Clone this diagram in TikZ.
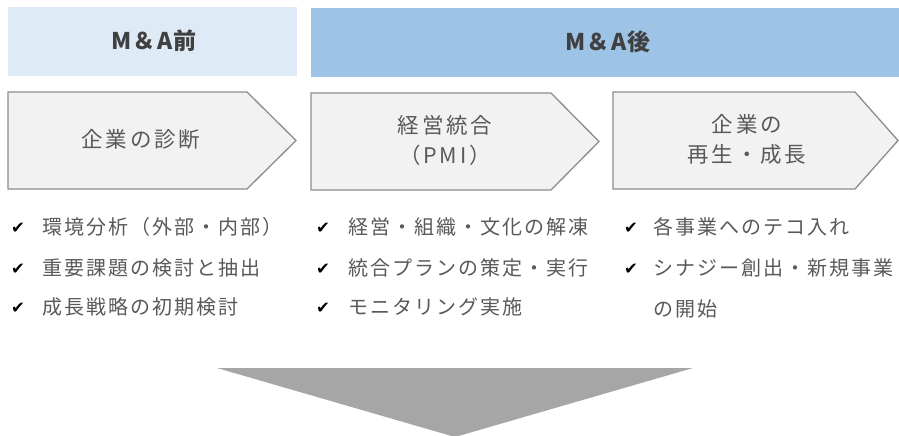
\documentclass[tikz,border=0pt]{standalone}
\usepackage{fontspec}
\setmainfont{Noto Sans CJK JP}
\newfontfamily\chk{DejaVu Sans}
\newfontfamily\jpsp[LetterSpace=10]{Noto Sans CJK JP}
\newfontfamily\jpspb[LetterSpace=13]{Noto Sans CJK JP}
\newfontfamily\jphdr[LetterSpace=5]{Noto Sans CJK JP}
\definecolor{hdrA}{HTML}{DEEAF6}
\definecolor{hdrB}{HTML}{9DC3E6}
\definecolor{chevfill}{HTML}{F2F2F2}
\definecolor{chevline}{HTML}{8C8C8C}
\definecolor{txtgray}{HTML}{595959}
\definecolor{hdrtxt}{HTML}{404040}
\definecolor{arrowgray}{HTML}{A6A6A6}
\tikzset{
  hdrlabel/.style={font=\jphdr\fontsize{23}{26}\selectfont\bfseries, text=hdrtxt, inner sep=0pt},
  chevshape/.style={fill=chevfill, draw=chevline, line width=1.3pt},
  chevlabel/.style={font=\jpspb\fontsize{21.5}{30}\selectfont, text=txtgray, align=center, inner sep=0pt},
  bullettext/.style={font=\jpsp\fontsize{20}{22}\selectfont, text=txtgray, anchor=west, inner sep=0pt},
  checkmark/.style={font=\chk\fontsize{16.5}{18}\selectfont, text=black, inner sep=0pt},
}
\begin{document}
\begin{tikzpicture}[x=1pt,y=-1pt]
\useasboundingbox (0,0) rectangle (899,436);
% headers
\fill[hdrA] (8,7) rectangle (297,76);
\fill[hdrB] (311,8) rectangle (899,77);
\node[hdrlabel] (hA) at (154,41) {M＆A前};
\node[hdrlabel] (hB) at (608,42) {M＆A後};
% chevrons
\draw[chevshape] (8,92) -- (247,92) -- (296,140.5) -- (247,189) -- (8,189) -- cycle;
\draw[chevshape] (311,93) -- (551,93) -- (599,141.5) -- (551,190) -- (311,190) -- cycle;
\draw[chevshape] (613,92) -- (855,92) -- (898,140.5) -- (855,189) -- (613,189) -- cycle;
\node[chevlabel] (c1) at (141,139) {企業の診断};
\node[chevlabel] (c2) at (445,140) {経営統合\\（PMI）};
\node[chevlabel] (c3) at (747,139) {企業の\\再生・成長};
% bullets column 1
\node[checkmark] (k11) at (18,228) {✔};
\node[bullettext] (b11) at (42,227) {環境分析（外部・内部）};
\node[checkmark] (k12) at (18,269) {✔};
\node[bullettext] (b12) at (42,268) {重要課題の検討と抽出};
\node[checkmark] (k13) at (18,308) {✔};
\node[bullettext] (b13) at (42,307) {成長戦略の初期検討};
% bullets column 2
\node[checkmark] (k21) at (323,228) {✔};
\node[bullettext] (b21) at (348,227) {経営・組織・文化の解凍};
\node[checkmark] (k22) at (323,269) {✔};
\node[bullettext] (b22) at (348,268) {統合プランの策定・実行};
\node[checkmark] (k23) at (323,308) {✔};
\node[bullettext] (b23) at (348,307) {モニタリング実施};
% bullets column 3
\node[checkmark] (k31) at (631,228) {✔};
\node[bullettext] (b31) at (653,227) {各事業へのテコ入れ};
\node[checkmark] (k32) at (631,269) {✔};
\node[bullettext] (b32) at (653,268) {シナジー創出・新規事業};
\node[bullettext] (b33) at (653,309) {の開始};
% big down arrow
\fill[arrowgray] (217,368) -- (693,368) -- (455,437) -- cycle;
\end{tikzpicture}
\end{document}
